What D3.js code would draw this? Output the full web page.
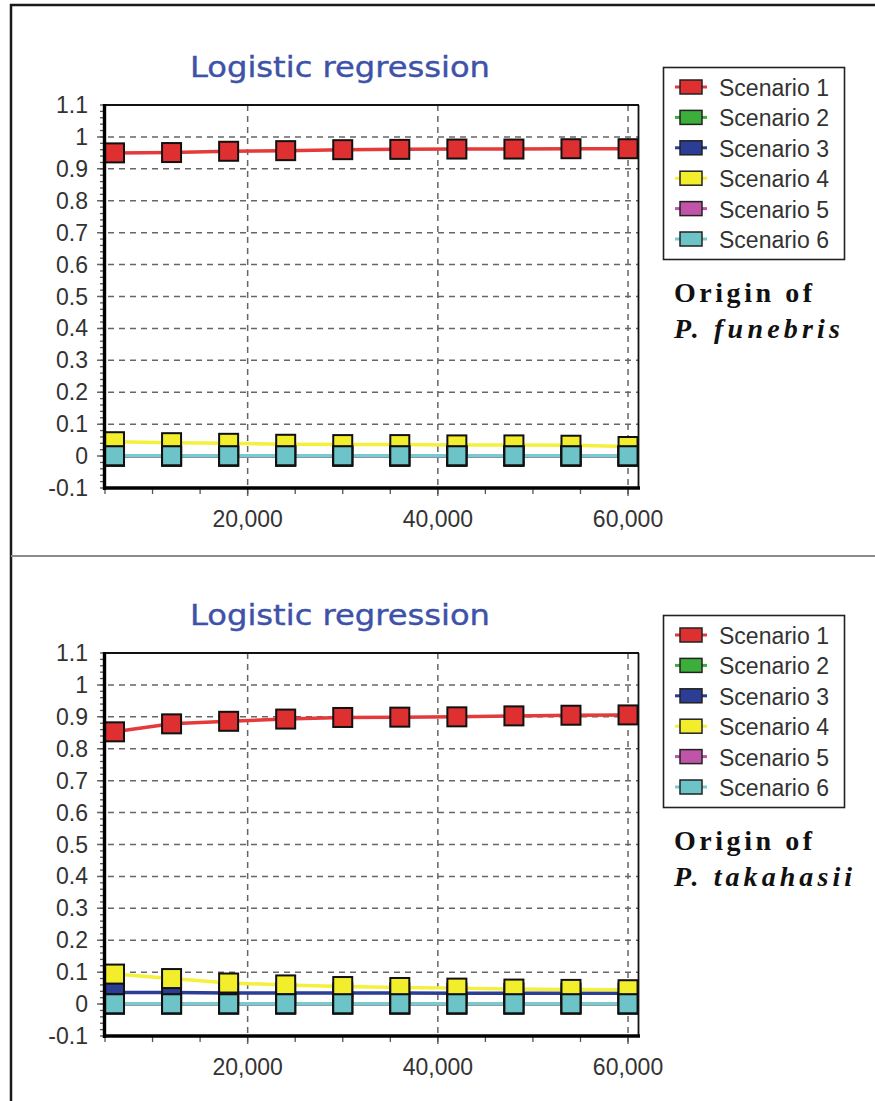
<html>
<head>
<meta charset="utf-8">
<script src="https://d3js.org/d3.v7.min.js"></script>
<style>
  body { margin: 0; background: #fff; }
</style>
</head>
<body>
<div id="chart_area"></div>
<script>
// sample points (iterations) where markers are drawn
const xSteps = [6000, 12000, 18000, 24000, 30000, 36000, 42000, 48000, 54000, 60000];

// panel 1 : origin of P. funebris
const fun_s1 = [0.950, 0.951, 0.955, 0.957, 0.960, 0.961, 0.962, 0.962, 0.963, 0.963];
const fun_s2 = [0, 0, 0, 0, 0, 0, 0, 0, 0, 0];
const fun_s3 = [0, 0, 0, 0, 0, 0, 0, 0, 0, 0];
const fun_s4 = [0.045, 0.042, 0.040, 0.037, 0.036, 0.036, 0.035, 0.035, 0.034, 0.030];
const fun_s5 = [0, 0, 0, 0, 0, 0, 0, 0, 0, 0];
const fun_s6 = [0.001, 0.001, 0.001, 0.001, 0.001, 0.001, 0.001, 0.001, 0.001, 0.001];

// panel 2 : origin of P. takahasii
const tak_s1 = [0.853, 0.878, 0.886, 0.893, 0.898, 0.899, 0.900, 0.903, 0.905, 0.906];
const tak_s2 = [0, 0, 0, 0, 0, 0, 0, 0, 0, 0];
const tak_s3 = [0.036, 0.036, 0.035, 0.035, 0.035, 0.035, 0.034, 0.034, 0.034, 0.034];
const tak_s4 = [0.094, 0.080, 0.066, 0.060, 0.055, 0.052, 0.050, 0.047, 0.046, 0.045];
const tak_s5 = [0, 0, 0, 0, 0, 0, 0, 0, 0, 0];
const tak_s6 = [0.001, 0.001, 0.001, 0.001, 0.001, 0.001, 0.001, 0.001, 0.001, 0.001];

const scenarios = ["Scenario 1", "Scenario 2", "Scenario 3", "Scenario 4", "Scenario 5", "Scenario 6"];
const fillColors = ["#de3030", "#3cae3c", "#2b3d94", "#f2ee2c", "#c054a8", "#6cc4c8"];
const lineColors = ["#e43a3a", "#3cae3c", "#2b3d94", "#f4f03c", "#c054a8", "#78cccc"];

const yTicks = [-0.1, 0, 0.1, 0.2, 0.3, 0.4, 0.5, 0.6, 0.7, 0.8, 0.9, 1, 1.1];
const xTicks = [20000, 40000, 60000];
const xDomain = [5000, 61100];
const yDomain = [-0.1, 1.1];

const width = 875, height = 1101;
const svg = d3.select("#chart_area").append("svg")
    .attr("width", width)
    .attr("height", height)
    .style("display", "block");

// outer frame + divider
svg.append("line").attr("x1", 10).attr("x2", width).attr("y1", 5).attr("y2", 5)
    .attr("stroke", "#1a1a1a").attr("stroke-width", 2.5);
svg.append("line").attr("x1", 11).attr("x2", 11).attr("y1", 4).attr("y2", height)
    .attr("stroke", "#1a1a1a").attr("stroke-width", 2.5);
svg.append("line").attr("x1", 11).attr("x2", width).attr("y1", 556).attr("y2", 556)
    .attr("stroke", "#8a8a8a").attr("stroke-width", 2);

function drawPanel(top, series, speciesName, nameWidth) {
    let g = svg.append("g").attr("transform", "translate(0," + top + ")");
    let x = d3.scaleLinear().domain(xDomain).range([105, 638.5]);
    let y = d3.scaleLinear().domain(yDomain).range([488, 105]);

    // title
    g.append("text")
        .attr("x", 190).attr("y", 77)
        .attr("textLength", 300).attr("lengthAdjust", "spacingAndGlyphs")
        .style("font", "29px 'DejaVu Sans'")
        .attr("fill", "#3d52a8")
        .attr("stroke", "#3d52a8").attr("stroke-width", 0.4)
        .text("Logistic regression");

    // grid
    g.selectAll(".hgrid")
        .data(yTicks.filter(d => d < 1.1 && d > -0.1))
        .join("line")
        .attr("x1", 97).attr("x2", 638)
        .attr("y1", d => y(d)).attr("y2", d => y(d))
        .attr("stroke", "#666").attr("stroke-width", 1.5)
        .attr("stroke-dasharray", "6,5");
    g.selectAll(".vgrid")
        .data(xTicks)
        .join("line")
        .attr("x1", d => x(d)).attr("x2", d => x(d))
        .attr("y1", 105).attr("y2", 498)
        .attr("stroke", "#666").attr("stroke-width", 1.5)
        .attr("stroke-dasharray", "6,5");

    // minor ticks
    let yMinor = d3.range(-50, 551).filter(k => k % 10 === 0).map(k => k / 500);
    g.selectAll(".yminor")
        .data(yMinor)
        .join("line")
        .attr("x1", 100).attr("x2", 104)
        .attr("y1", d => y(d)).attr("y2", d => y(d))
        .attr("stroke", "#555").attr("stroke-width", 1.3);
    let xMinor = d3.range(5000, 60001, 5000);
    g.selectAll(".xminor")
        .data(xMinor)
        .join("line")
        .attr("x1", d => x(d)).attr("x2", d => x(d))
        .attr("y1", 488).attr("y2", 494)
        .attr("stroke", "#555").attr("stroke-width", 1.3);

    // y labels
    g.selectAll(".ylab")
        .data(yTicks)
        .join("text")
        .attr("x", 88).attr("y", d => y(d))
        .attr("text-anchor", "end")
        .attr("dominant-baseline", "central")
        .style("font", "23px 'Liberation Sans'")
        .attr("fill", "#333")
        .text(d => String(d));

    // x labels
    g.selectAll(".xlab")
        .data(xTicks)
        .join("text")
        .attr("x", d => x(d)).attr("y", 527)
        .attr("text-anchor", "middle")
        .style("font", "23px 'Liberation Sans'")
        .attr("fill", "#333")
        .text(d => d3.format(",")(d));

    // series lines (run across the whole plotted range)
    let line = d3.line().x(d => x(d[0])).y(d => y(d[1]));
    series.forEach((vals, i) => {
        let pts = xSteps.map((xv, k) => [xv, vals[k]]);
        pts.unshift([xDomain[0], vals[0]]);
        pts.push([xDomain[1], vals[vals.length - 1]]);
        g.append("path")
            .datum(pts)
            .attr("d", line)
            .attr("fill", "none")
            .attr("stroke", lineColors[i])
            .attr("stroke-width", 3.5);
    });

    // markers
    series.forEach((vals, i) => {
        g.selectAll(".mk" + i)
            .data(xSteps.map((xv, k) => [xv, vals[k]]))
            .join("rect")
            .attr("x", d => x(d[0]) - 9.5).attr("y", d => y(d[1]) - 9.5)
            .attr("width", 19).attr("height", 19)
            .attr("fill", fillColors[i])
            .attr("stroke", "#111").attr("stroke-width", 2);
    });

    // plot frame
    g.append("line").attr("x1", 104).attr("x2", 639).attr("y1", 105).attr("y2", 105)
        .attr("stroke", "#111").attr("stroke-width", 1.8);
    g.append("line").attr("x1", 638.5).attr("x2", 638.5).attr("y1", 105).attr("y2", 488)
        .attr("stroke", "#111").attr("stroke-width", 1.8);
    g.append("line").attr("x1", 104.5).attr("x2", 104.5).attr("y1", 104).attr("y2", 490)
        .attr("stroke", "#000").attr("stroke-width", 3.4);
    g.append("line").attr("x1", 103).attr("x2", 640).attr("y1", 488).attr("y2", 488)
        .attr("stroke", "#000").attr("stroke-width", 3.4);

    // legend
    let lg = g.append("g");
    lg.append("rect")
        .attr("x", 663.5).attr("y", 67.5).attr("width", 181).attr("height", 192)
        .attr("fill", "#fff").attr("stroke", "#222").attr("stroke-width", 1.6);
    let rows = lg.selectAll(".row")
        .data(scenarios)
        .join("g")
        .attr("transform", (d, i) => "translate(0," + (87 + i * 30.4) + ")");
    rows.append("line")
        .attr("x1", 675).attr("x2", 707).attr("y1", 0).attr("y2", 0)
        .attr("stroke", (d, i) => lineColors[i]).attr("stroke-width", 3);
    rows.append("rect")
        .attr("x", 680).attr("y", -7).attr("width", 22).attr("height", 14)
        .attr("fill", (d, i) => fillColors[i])
        .attr("stroke", "#222").attr("stroke-width", 1.5);
    rows.append("text")
        .attr("x", 719).attr("y", 1)
        .attr("dominant-baseline", "central")
        .style("font", "23px 'Liberation Sans'")
        .attr("fill", "#333")
        .text(d => d);

    // species caption
    g.append("text")
        .attr("x", 674).attr("y", 302)
        .attr("textLength", 138).attr("lengthAdjust", "spacing")
        .style("font", "bold 28px 'Liberation Serif'")
        .attr("fill", "#111")
        .text("Origin of");
    g.append("text")
        .attr("x", 674).attr("y", 338)
        .attr("textLength", nameWidth).attr("lengthAdjust", "spacing")
        .style("font", "italic bold 28px 'Liberation Serif'")
        .attr("fill", "#111")
        .text(speciesName);
}

drawPanel(0, [fun_s1, fun_s2, fun_s3, fun_s4, fun_s5, fun_s6], "P. funebris", 166);
drawPanel(548, [tak_s1, tak_s2, tak_s3, tak_s4, tak_s5, tak_s6], "P. takahasii", 178);
</script>
</body>
</html>
